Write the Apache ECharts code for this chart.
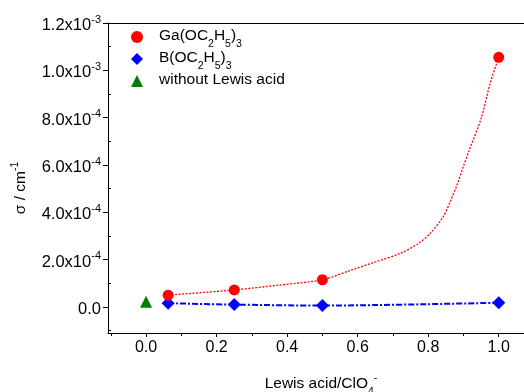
<!DOCTYPE html>
<html>
<head>
<meta charset="utf-8">
<script src="https://cdn.jsdelivr.net/npm/echarts@6/dist/echarts.min.js"></script>
<style>
  html, body { margin: 0; padding: 0; background: #fff; }
  #chart { width: 524px; height: 392px; }
</style>
</head>
<body>
<div id="chart"></div>
<script>
// measured points
const gaX = [0.0625, 0.25, 0.5, 1.0]
const gaY = [5.0e-5, 7.2e-5, 1.15e-4, 1.055e-3]
const bX = [0.0625, 0.25, 0.5, 1.0]
const bY = [1.6e-5, 1.0e-5, 6e-6, 1.8e-5]
const noAcidX = [0]
const noAcidY = [2.2e-5]

// red fitted curve
const gaFitX = [0.0625, 0.15, 0.25, 0.375, 0.5, 0.58, 0.65, 0.72, 0.77, 0.805, 0.842, 0.864, 0.883, 0.899, 0.916, 0.951, 0.975, 1.0]
const gaFitY = [5.0e-5, 6.0e-5, 7.2e-5, 9.2e-5, 1.15e-4, 1.55e-4, 1.90e-4, 2.26e-4, 2.66e-4, 3.10e-4, 3.80e-4, 4.51e-4, 5.21e-4, 5.91e-4, 6.61e-4, 8.01e-4, 9.42e-4, 1.055e-3]

const xTicks = [0, 0.2, 0.4, 0.6, 0.8, 1.0]
const xMinorTicks = [-0.1, 0.1, 0.3, 0.5, 0.7, 0.9]
const yTicks = [0, 2e-4, 4e-4, 6e-4, 8e-4, 1.0e-3, 1.2e-3]
const yMinorTicks = [-1e-4, 1e-4, 3e-4, 5e-4, 7e-4, 9e-4, 1.1e-3]

const legendNames = ['Ga(OC2H5)3', 'B(OC2H5)3', 'without Lewis acid']
const legendRich = {
  'Ga(OC2H5)3': '{f|Ga(OC}{b|2}{t|H}{b|5}{t|)}{b|3}',
  'B(OC2H5)3': '{f|B(OC}{b|2}{t|H}{b|5}{t|)}{b|3}',
  'without Lewis acid': '{f|without Lewis acid}',
}

const FONT = 'Liberation Sans, Arial, sans-serif'
const zip = (xs, ys) => xs.map((x, i) => [x, ys[i]])

function sciLabel(v) {
  if (v === 0) return '{m|0.0}'
  const e = Math.floor(Math.log10(v) + 1e-9)
  const mant = (v / Math.pow(10, e)).toFixed(1)
  return `{m|${mant}x10}{s|${e}}`
}

const gridRect = { left: 108, right: -10, top: 23, bottom: 59, containLabel: false, outerBoundsMode: 'none' }
const xRange = { min: -0.108, max: 1.1 }
const yRange = { min: -1.1e-4, max: 1.2e-3 }

const chart = echarts.init(document.getElementById('chart'))
chart.setOption({
  animation: false,
  textStyle: { fontFamily: FONT, color: '#000' },
  grid: [{ ...gridRect }, { ...gridRect }],
  legend: {
    data: [
      { name: legendNames[0], icon: 'circle' },
      { name: legendNames[1], icon: 'diamond' },
      { name: legendNames[2], icon: 'triangle' },
    ],
    orient: 'vertical',
    left: 131,
    top: 28,
    padding: 0,
    itemGap: 0,
    itemWidth: 12,
    itemHeight: 12,
    formatter: (name) => legendRich[name],
    textStyle: {
      fontFamily: FONT,
      color: '#000',
      rich: {
        f: { fontSize: 15.5, lineHeight: 18, verticalAlign: 'top', padding: [0, 0, 0, 11], fontFamily: FONT, color: '#000' },
        t: { fontSize: 15.5, lineHeight: 18, verticalAlign: 'top', fontFamily: FONT, color: '#000' },
        b: { fontSize: 10.5, lineHeight: 10, verticalAlign: 'top', padding: [11, 0, 0, 0], fontFamily: FONT, color: '#000' },
      },
    },
  },
  xAxis: [
    {
      type: 'value', gridIndex: 0, position: 'bottom', ...xRange,
      axisLine: { show: true, onZero: false, lineStyle: { color: '#000', width: 1 } },
      axisTick: { show: true, length: 4, customValues: xTicks, lineStyle: { color: '#000' } },
      axisLabel: {
        customValues: xTicks, margin: 7, fontSize: 16, color: '#000', fontFamily: FONT,
        formatter: (v) => v.toFixed(1),
      },
      splitLine: { show: false },
      name: '{t|Lewis acid/ClO}{b|4}{s|-}',
      nameLocation: 'middle',
      nameGap: 40,
      nameTextStyle: {
        rich: {
          t: { fontSize: 15.5, lineHeight: 18, verticalAlign: 'top', padding: [3, 0, 0, 0], fontFamily: FONT, color: '#000' },
          b: { fontSize: 10.5, lineHeight: 10, verticalAlign: 'top', padding: [14, 0, 0, 0], fontFamily: FONT, color: '#000' },
          s: { fontSize: 10.5, lineHeight: 10, verticalAlign: 'top', fontFamily: FONT, color: '#000' },
        },
      },
    },
    {
      type: 'value', gridIndex: 0, position: 'top', ...xRange,
      axisLine: { show: true, onZero: false, lineStyle: { color: '#000', width: 1 } },
      axisTick: { show: false },
      axisLabel: { show: false },
      splitLine: { show: false },
    },
    {
      type: 'value', gridIndex: 1, position: 'bottom', ...xRange,
      axisLine: { show: false, onZero: false },
      axisTick: { show: true, length: 3, customValues: xMinorTicks, lineStyle: { color: '#000' } },
      axisLabel: { show: false },
      splitLine: { show: false },
    },
  ],
  yAxis: [
    {
      type: 'value', gridIndex: 0, position: 'left', ...yRange,
      axisLine: { show: true, onZero: false, lineStyle: { color: '#000', width: 1 } },
      axisTick: { show: true, length: 5, customValues: yTicks, lineStyle: { color: '#000' } },
      axisLabel: {
        customValues: yTicks, margin: 7, formatter: sciLabel,
        rich: {
          m: { fontSize: 16.5, lineHeight: 18, verticalAlign: 'top', padding: [3, 0, 0, 0], fontFamily: FONT, color: '#000' },
          s: { fontSize: 11, lineHeight: 10, verticalAlign: 'top', fontFamily: FONT, color: '#000' },
        },
      },
      splitLine: { show: false },
      name: '{t|σ / cm}{s|-1}',
      nameLocation: 'middle',
      nameGap: 80,
      nameRotate: 90,
      nameTextStyle: {
        padding: [0, 20, 0, 0],
        rich: {
          t: { fontSize: 15.5, lineHeight: 18, verticalAlign: 'top', padding: [3, 0, 0, 0], fontFamily: FONT, color: '#000' },
          s: { fontSize: 10.5, lineHeight: 10, verticalAlign: 'top', fontFamily: FONT, color: '#000' },
        },
      },
    },
    {
      type: 'value', gridIndex: 1, position: 'left', ...yRange,
      axisLine: { show: false, onZero: false },
      axisTick: { show: true, inside: true, length: 3, customValues: yMinorTicks, lineStyle: { color: '#000' } },
      axisLabel: { show: false },
      splitLine: { show: false },
    },
  ],
  series: [
    {
      name: 'Ga fit',
      type: 'line',
      xAxisIndex: 0, yAxisIndex: 0,
      data: zip(gaFitX, gaFitY),
      showSymbol: false,
      smooth: 0.3,
      silent: true,
      z: 2,
      lineStyle: { color: '#ff0000', width: 1.3, type: [2, 1.5] },
    },
    {
      name: legendNames[1],
      type: 'line',
      xAxisIndex: 0, yAxisIndex: 0,
      data: zip(bX, bY),
      symbol: 'diamond',
      symbolSize: 13,
      smooth: 0.3,
      z: 3,
      itemStyle: { color: '#0000ff', opacity: 1 },
      lineStyle: { color: '#0000ff', width: 2, type: [6, 2, 2, 2] },
    },
    {
      name: legendNames[0],
      type: 'scatter',
      xAxisIndex: 0, yAxisIndex: 0,
      data: zip(gaX, gaY),
      symbol: 'circle',
      symbolSize: 11,
      z: 4,
      itemStyle: { color: '#ff0000', opacity: 1 },
    },
    {
      name: legendNames[2],
      type: 'scatter',
      xAxisIndex: 0, yAxisIndex: 0,
      data: zip(noAcidX, noAcidY),
      symbol: 'triangle',
      symbolSize: 12,
      z: 4,
      itemStyle: { color: '#008000', opacity: 1 },
    },
  ],
})
</script>
</body>
</html>
